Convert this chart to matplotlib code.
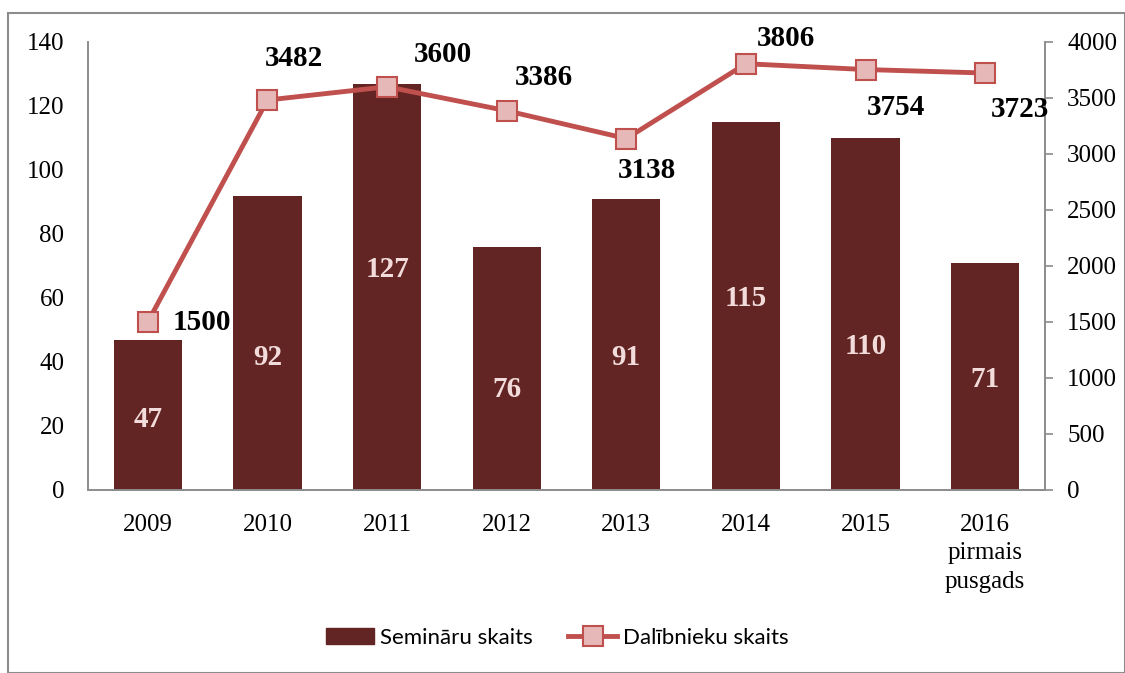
import matplotlib
matplotlib.use("Agg")
from matplotlib import pyplot as plt
from matplotlib.patches import Rectangle, Patch
from matplotlib.lines import Line2D
import numpy as np

# Data
years = ["2009", "2010", "2011", "2012", "2013", "2014", "2015", "2016\npirmais\npusgads"]
seminari = [47, 92, 127, 76, 91, 115, 110, 71]
dalibnieki = [1500, 3482, 3600, 3386, 3138, 3806, 3754, 3723]

# label placement (bar labels in left-axis units, line labels as offsets in points)
bar_label_y = [21.9, 41.3, 68.8, 31.3, 41.3, 60.0, 44.7, 34.4]
line_offsets = [(39, 0), (19, 30), (40, 23), (27, 24), (15, -23), (29, 18), (22, -27), (25, -26)]

bar_color = "#632523"
line_color = "#C0504D"
marker_face = "#E6B9B8"
grid_gray = "#8C8C8C"
serif = "Liberation Serif"

fig = plt.figure(figsize=(11.25, 6.73), dpi=100)
ax = fig.add_axes([88/1125, 1-490/673, (1045-88)/1125, (490-42)/673])
ax2 = ax.twinx()

x = np.arange(len(years))
ax.bar(x, seminari, width=0.57, color=bar_color, zorder=2)
for xi, v, ly in zip(x, seminari, bar_label_y):
    ax.text(xi, ly, str(v), ha="center", va="center", color="#F2DCDB",
            fontsize=21, fontweight="bold", family=serif)

ax2.plot(x, dalibnieki, color=line_color, lw=3.5, marker="s", markersize=14,
         markerfacecolor=marker_face, markeredgecolor=line_color, markeredgewidth=1.5, zorder=3)
for xi, v, off in zip(x, dalibnieki, line_offsets):
    ax2.annotate(str(v), (xi, v), xytext=off, textcoords="offset points",
                 ha="center", va="center", fontsize=21, fontweight="bold",
                 family=serif, color="black")

ax.set_xlim(-0.5, len(years)-0.5)
ax.set_ylim(0, 140)
ax.set_yticks(range(0, 141, 20))
ax2.set_ylim(0, 4000)
ax2.set_yticks(range(0, 4001, 500))

ax.set_xticks(x)
ax.set_xticklabels(years, family=serif, fontsize=18, linespacing=1.4)
for lab in ax.get_yticklabels() + ax2.get_yticklabels():
    lab.set_family(serif)
    lab.set_fontsize(18)

ax.tick_params(axis="x", length=0, pad=17)
ax.tick_params(axis="y", length=0, pad=17)
ax2.tick_params(axis="y", length=6, width=1.2, color=grid_gray, pad=10)

for a in (ax, ax2):
    a.spines["top"].set_visible(False)
    for s in ("left", "right", "bottom"):
        a.spines[s].set_color(grid_gray)
        a.spines[s].set_linewidth(1.2)

# legend
handles = [Patch(color=bar_color, label="Semināru skaits"),
           Line2D([0], [0], color=line_color, lw=3.5, marker="s", markersize=14,
                  markerfacecolor=marker_face, markeredgecolor=line_color,
                  markeredgewidth=1.5, label="Dalībnieku skaits")]
fig.legend(handles=handles, loc="center", bbox_to_anchor=(557/1125, 1-638/673),
           ncol=2, frameon=False, prop={"family": "Lato", "size": 16},
           handlelength=2.2, handleheight=0.7, columnspacing=1.6, handletextpad=0.25)

# outer frame
fig.patches.append(Rectangle((8/1125, 0.0), 1-8/1125, 1-13/673, transform=fig.transFigure,
                             fill=False, edgecolor=grid_gray, lw=1.5))

fig.savefig("out.png", dpi=100)
